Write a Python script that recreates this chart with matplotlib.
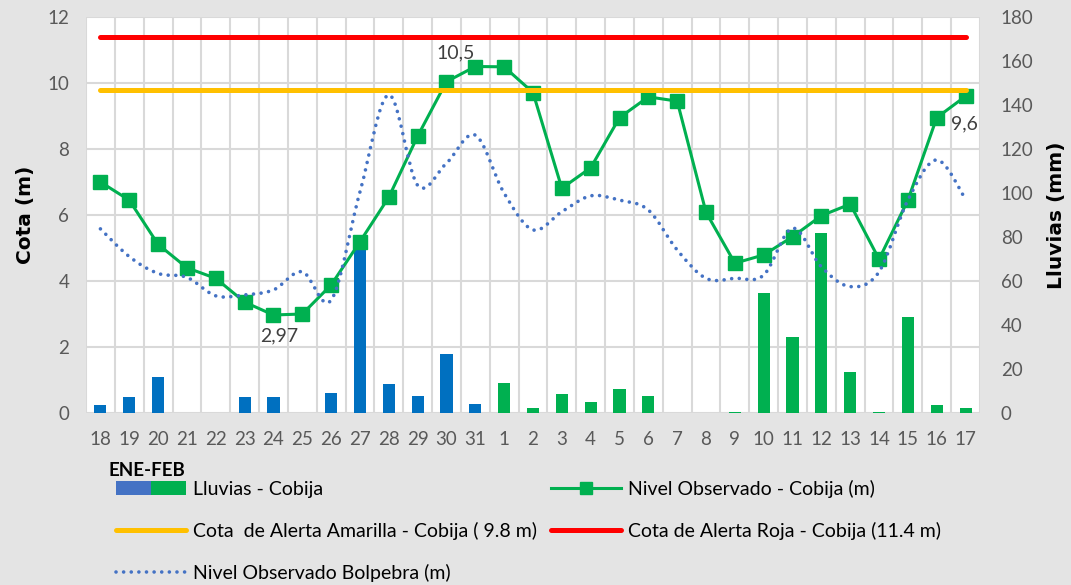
import numpy as np
import matplotlib
matplotlib.use("Agg")
import matplotlib.pyplot as plt
from matplotlib.path import Path
from matplotlib.patches import PathPatch, Patch
from matplotlib.lines import Line2D
from matplotlib.legend_handler import HandlerTuple
from matplotlib.ticker import MultipleLocator, FixedLocator

plt.rcParams["font.family"] = ["Lato", "DejaVu Sans"]

# ---- data ----
days = ["18", "19", "20", "21", "22", "23", "24", "25", "26", "27", "28", "29", "30", "31",
        "1", "2", "3", "4", "5", "6", "7", "8", "9", "10", "11", "12", "13", "14", "15", "16", "17"]
month = ["ENE"] * 14 + ["FEB"] * 17

lluvias_mm = [3.6, 7.3, 16.4, 0, 0, 7.3, 7.3, 0, 9.1, 77, 13.2, 7.7, 26.8, 4.1,
              13.6, 2.3, 8.6, 5.0, 10.9, 7.7, 0, 0, 0.5, 54.5, 34.5, 81.8, 18.6, 0.5, 43.6, 3.6, 2.3]

nivel_cobija = [7.0, 6.45, 5.11, 4.40, 4.08, 3.36, 2.97, 3.0, 3.88, 5.19, 6.54, 8.39, 10.04, 10.5,
                10.49, 9.71, 6.81, 7.43, 8.95, 9.58, 9.45, 6.08, 4.54, 4.79, 5.34, 5.98, 6.33, 4.66,
                6.45, 8.95, 9.6]

nivel_bolpebra = [5.58, 4.74, 4.23, 4.11, 3.55, 3.58, 3.73, 4.28, 3.42, 6.7, 9.64, 6.9, 7.57, 8.42,
                  6.66, 5.55, 6.1, 6.58, 6.45, 6.15, 4.94, 4.08, 4.08, 4.18, 5.6, 4.43, 3.83, 4.28,
                  6.45, 7.67, 6.48]

ALERTA_AMARILLA = 9.8
ALERTA_ROJA = 11.4

# labelled points of the Cobija series: index -> text
etiquetas = {13: "10,5", 6: "2,97", 30: "9,6"}

BLUE_BAR = "#0070C0"
GREEN = "#00B050"
YELLOW = "#FFC000"
RED = "#FF0000"
DOT_BLUE = "#4472C4"
GRID = "#D9D9D9"
TICK = "#595959"
BG = "#E4E4E4"
DOTS = (0, (0.01, 2.1))


def smooth_path(x, y):
    # Excel-like smoothed line: cubic bezier segments (Catmull-Rom control points)
    pts = np.column_stack([x, y]).astype(float)
    n = len(pts)
    verts = [pts[0]]
    codes = [Path.MOVETO]
    for i in range(n - 1):
        p0 = pts[i - 1] if i > 0 else pts[i]
        p1 = pts[i]
        p2 = pts[i + 1]
        p3 = pts[i + 2] if i + 2 < n else pts[i + 1]
        verts += [p1 + (p2 - p0) / 6.0, p2 - (p3 - p1) / 6.0, p2]
        codes += [Path.CURVE4] * 3
    return Path(verts, codes)


def main():
    x = np.arange(len(days))

    fig = plt.figure(figsize=(10.71, 5.85), dpi=100)
    fig.patch.set_facecolor(BG)
    ax = fig.add_axes([86 / 1071, 1 - 413 / 585, 894 / 1071, 396 / 585])
    ax2 = ax.twinx()

    # bars sit on the secondary axis (drawn first), lines on the primary one
    ax.set_zorder(2)
    ax.patch.set_visible(False)
    ax2.set_zorder(1)
    ax2.patch.set_visible(True)
    ax2.patch.set_facecolor("white")

    bar_colors = [BLUE_BAR if m == "ENE" else GREEN for m in month]
    ax2.bar(x, lluvias_mm, width=0.42, color=bar_colors, zorder=3)
    ax2.set_ylim(0, 180)
    ax2.yaxis.set_major_locator(MultipleLocator(20))

    # grid follows the left (cota) ticks; vertical lines at category boundaries
    ax2.xaxis.set_visible(True)
    ax2.yaxis.set_minor_locator(MultipleLocator(30))
    ax2.yaxis.remove_overlapping_locs = False
    ax2.xaxis.set_minor_locator(FixedLocator(np.arange(-0.5, len(days), 1.0)))
    ax2.grid(which="minor", color=GRID, linewidth=1.5)
    ax2.set_axisbelow(True)
    ax2.tick_params(axis="x", which="both", length=0, labelbottom=False, labeltop=False)
    ax2.tick_params(axis="y", which="minor", length=0)

    ax.plot(x, nivel_cobija, color=GREEN, linewidth=2.2, marker="s", markersize=10, zorder=3)
    ax.plot(x, [ALERTA_AMARILLA] * len(x), color=YELLOW, linewidth=3.6,
            solid_capstyle="round", zorder=4)
    ax.plot(x, [ALERTA_ROJA] * len(x), color=RED, linewidth=3.6,
            solid_capstyle="round", zorder=4)
    ax.add_patch(PathPatch(smooth_path(x, nivel_bolpebra), facecolor="none",
                           edgecolor=DOT_BLUE, linewidth=2.6, linestyle=DOTS,
                           capstyle="round", zorder=5))

    offsets = {13: (-14, 10), 6: (4, -15), 30: (-1, -20)}
    for i, txt in etiquetas.items():
        ax.annotate(txt, (x[i], nivel_cobija[i]), xytext=offsets[i], textcoords="offset points",
                    ha="center", va="center", fontsize=14, color="#404040", zorder=6)

    ax.set_xlim(-0.5, len(days) - 0.5)
    ax.set_ylim(0, 12)
    ax.yaxis.set_major_locator(MultipleLocator(2))
    ax.set_xticks(x)
    ax.set_xticklabels(days)

    for a in (ax, ax2):
        for s in a.spines.values():
            s.set_visible(False)
    ax.tick_params(axis="both", which="both", length=0, colors=TICK, labelsize=13.5)
    ax.tick_params(axis="x", pad=13)
    ax.tick_params(axis="y", pad=12)
    ax2.tick_params(axis="y", which="major", length=0, colors=TICK, labelsize=13.5, pad=15)

    lab_font = dict(family="DejaVu Sans", fontsize=14.5, fontweight="bold")
    ax.set_ylabel("Cota (m)", labelpad=9, **lab_font)
    ax2.set_ylabel("Lluvias (mm)", labelpad=10, **lab_font)

    # legend
    h_lluvias = (Patch(facecolor=DOT_BLUE), Patch(facecolor=GREEN))
    h_nivel = Line2D([], [], color=GREEN, linewidth=2.2, marker="s", markersize=8)
    h_amar = Line2D([], [], color=YELLOW, linewidth=3.6, solid_capstyle="round")
    h_roja = Line2D([], [], color=RED, linewidth=3.6, solid_capstyle="round")
    h_bolp = Line2D([], [], color=DOT_BLUE, linewidth=2.6, linestyle=DOTS,
                    dash_capstyle="round")
    handles = [h_lluvias, h_amar, h_bolp, h_nivel, h_roja]
    labels = ["Lluvias - Cobija", "Cota  de Alerta Amarilla - Cobija ( 9.8 m)",
              "Nivel Observado Bolpebra (m)", "Nivel Observado - Cobija (m)",
              "Cota de Alerta Roja - Cobija (11.4 m)"]
    fig.legend(handles, labels, ncol=2, loc="upper left",
               bbox_to_anchor=(116 / 1071, 1 - 480 / 585), frameon=False, fontsize=14,
               handlelength=3.6, handletextpad=0.35, columnspacing=0.75, labelspacing=1.22,
               borderpad=0, borderaxespad=0,
               handler_map={tuple: HandlerTuple(ndivide=None, pad=0)})
    fig.text(109 / 1071, 1 - 470 / 585, "ENE-FEB", fontsize=13.5, fontweight="bold",
             va="center", ha="left")

    fig.savefig("out.png", dpi=100, facecolor=BG)


if __name__ == "__main__":
    main()
